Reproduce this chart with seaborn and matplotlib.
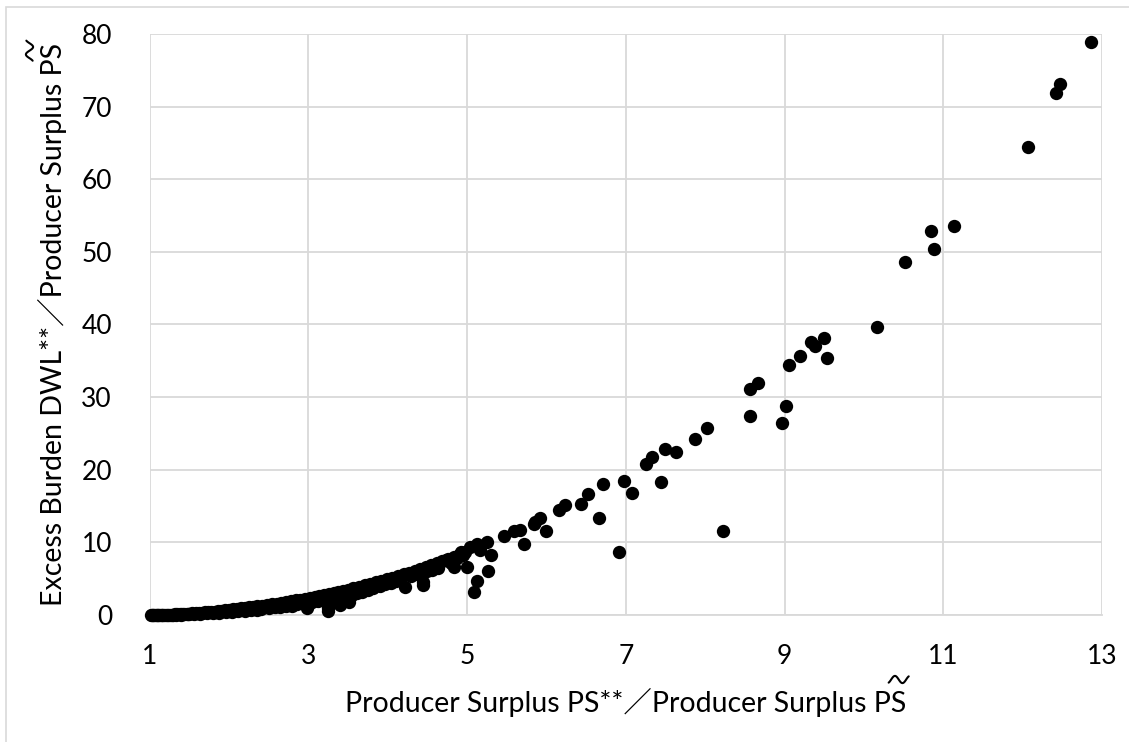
import matplotlib
matplotlib.use("Agg")
import matplotlib.pyplot as plt
import seaborn as sns
import pandas as pd
import numpy as np
from matplotlib.patches import Rectangle
from matplotlib.lines import Line2D

# ---- data ----
band_upper_x = [1.02, 1.05, 1.08, 1.11, 1.14, 1.17, 1.20, 1.23, 1.26, 1.29, 1.32, 1.35, 1.38, 1.41,
                1.44, 1.47, 1.50, 1.54, 1.58, 1.62, 1.66, 1.70, 1.74, 1.78, 1.82, 1.86, 1.90, 1.95,
                2.00, 2.05, 2.10, 2.15, 2.20, 2.25, 2.30, 2.36, 2.42, 2.48, 2.54, 2.60, 2.66, 2.72,
                2.78, 2.84, 2.90, 2.96, 3.02, 3.08, 3.14, 3.20, 3.26, 3.32, 3.38, 3.44, 3.50, 3.57,
                3.64, 3.71, 3.78, 3.85, 3.92, 3.99, 4.06, 4.13, 4.20, 4.27, 4.34, 4.41, 4.48, 4.55,
                4.62, 4.69, 4.76, 4.83, 4.90, 4.97]
band_upper_y = [0.00, 0.00, 0.01, 0.01, 0.02, 0.02, 0.03, 0.04, 0.05, 0.06, 0.07, 0.09, 0.10, 0.12,
                0.14, 0.16, 0.18, 0.21, 0.24, 0.28, 0.31, 0.35, 0.39, 0.43, 0.48, 0.53, 0.58, 0.64,
                0.70, 0.76, 0.83, 0.90, 0.97, 1.04, 1.11, 1.20, 1.29, 1.38, 1.48, 1.58, 1.68, 1.78,
                1.89, 2.00, 2.12, 2.24, 2.36, 2.49, 2.62, 2.76, 2.90, 3.04, 3.19, 3.34, 3.50, 3.69,
                3.88, 4.08, 4.28, 4.49, 4.71, 4.93, 5.15, 5.38, 5.61, 5.85, 6.10, 6.35, 6.61, 6.88,
                7.15, 7.43, 7.72, 8.01, 8.31, 8.61]

band_lower_x = [1.03, 1.06, 1.09, 1.12, 1.16, 1.22, 1.28, 1.34, 1.40, 1.48, 1.56, 1.64, 1.72, 1.80,
                1.88, 1.96, 2.04, 2.12, 2.20, 2.28, 2.35, 2.40, 2.50, 2.58, 2.65, 2.72, 2.79, 2.86,
                2.92, 2.98, 3.00, 3.05, 3.12, 3.18, 3.25, 3.25, 3.30, 3.36, 3.40, 3.46, 3.51, 3.55,
                3.62, 3.68, 3.75, 3.82, 3.90, 3.97, 4.04, 4.10, 4.16, 4.22, 4.30, 4.37, 4.44, 4.45,
                4.50, 4.56, 4.64, 4.73, 4.80, 4.83, 4.88, 4.92, 4.95, 5.00, 5.04]
band_lower_y = [0.00, 0.00, 0.00, 0.00, 0.01, 0.01, 0.02, 0.04, 0.05, 0.08, 0.12, 0.16, 0.21, 0.26,
                0.32, 0.39, 0.46, 0.53, 0.61, 0.70, 0.70, 0.86, 0.98, 1.05, 1.15, 1.30, 1.20, 1.52,
                1.60, 0.90, 1.35, 1.85, 1.95, 2.05, 0.50, 0.90, 2.25, 2.35, 1.40, 2.55, 1.80, 2.75,
                3.00, 3.20, 3.40, 3.65, 3.95, 4.20, 4.45, 4.70, 4.90, 3.90, 5.35, 5.60, 4.10, 4.60,
                6.00, 6.20, 6.50, 7.60, 7.10, 6.65, 7.80, 8.70, 8.20, 6.65, 9.40]

tail_x = [5.09, 5.12, 5.13, 5.17, 5.25, 5.26, 5.30, 5.46, 5.59, 5.67, 5.72, 5.84, 5.86, 5.92,
          5.99, 6.16, 6.23, 6.44, 6.53, 6.66, 6.71, 6.91, 6.98, 7.08, 7.25, 7.33, 7.44, 7.50,
          7.63, 7.87, 8.02, 8.23, 8.56, 8.57, 8.66, 8.97, 9.02, 9.06, 9.19, 9.33, 9.39, 9.50,
          9.53, 10.17, 10.52, 10.85, 10.88, 11.13, 12.07, 12.42, 12.47, 12.86]
tail_y = [3.1, 9.8, 4.7, 9.0, 10.0, 6.1, 8.3, 10.9, 11.6, 11.7, 9.8, 12.5, 12.8, 13.3,
          11.6, 14.5, 15.1, 15.3, 16.6, 13.4, 18.0, 8.7, 18.5, 16.8, 20.8, 21.8, 18.3, 22.8,
          22.4, 24.2, 25.7, 11.5, 27.4, 31.1, 32.0, 26.4, 28.8, 34.4, 35.6, 37.6, 37.0, 38.2,
          35.4, 39.7, 48.6, 52.9, 50.4, 53.5, 64.4, 71.9, 73.1, 78.9]

x_ticks = [1, 3, 5, 7, 9, 11, 13]
y_ticks = [0, 10, 20, 30, 40, 50, 60, 70, 80]

x_label = "Producer Surplus PS**\uff0fProducer Surplus PS"
y_label = "Excess Burden DWL**\uff0fProducer Surplus PS"

df = pd.DataFrame({
    "x": band_upper_x + band_lower_x + tail_x,
    "y": band_upper_y + band_lower_y + tail_y,
})

# ---- style ----
sns.set_theme(style="white")
FAM = ['Lato', 'Noto Sans CJK JP', 'DejaVu Sans']
plt.rcParams['font.family'] = FAM

W, H = 1129, 742
fig = plt.figure(figsize=(W / 100, H / 100), dpi=100)
left, right, top, bottom = 149.5, 1102, 34, 615
ax = fig.add_axes([left / W, 1 - bottom / H, (right - left) / W, (bottom - top) / H])

sns.scatterplot(data=df, x="x", y="y", ax=ax, color="black", s=92, linewidth=0,
                clip_on=False, zorder=3)

ax.set_xlim(1, 13)
ax.set_ylim(0, 80)
ax.set_xticks(x_ticks)
ax.set_yticks(y_ticks)
ax.grid(True, color="#d9d9d9", linewidth=1.3)
ax.set_axisbelow(True)
for sp in ax.spines.values():
    sp.set_visible(False)
ax.spines["bottom"].set_visible(True)
ax.spines["bottom"].set_color("#d9d9d9")
ax.spines["bottom"].set_linewidth(1.3)
ax.tick_params(axis="both", length=0, labelsize=19, colors="black")
ax.tick_params(axis="y", pad=27)
ax.tick_params(axis="x", pad=21)

LBL = 20.5
ax.set_xlabel(x_label, fontsize=LBL, color="black")
ax.set_ylabel(y_label, fontsize=LBL, color="black")
x_base = 712   # image-pixel baseline of the x label
y_base = 62    # image-pixel baseline of the y label
ax.xaxis.label.set_va("baseline")
ax.xaxis.set_label_coords(0.5, (bottom - x_base) / (bottom - top))
ax.yaxis.label.set_va("baseline")
ax.yaxis.set_label_coords((y_base - left) / (right - left), 0.5)

# tilde accent over the final "S" of each label (drawn as a stroke)
fig.canvas.draw()
r = fig.canvas.get_renderer()
tmp = fig.text(0, 0, "S", fontsize=LBL)
sw = tmp.get_window_extent(r).width
tmp.remove()
bx = ax.xaxis.label.get_window_extent(r)
by = ax.yaxis.label.get_window_extent(r)

t = np.linspace(-0.17, 1.17, 60)
along = (t - 0.5) * 15.0          # pixels along the text direction
up = np.sin(2 * np.pi * t) * 3.6  # pixels towards the top of the glyphs
CAP = 20.5
GAP = 12.0
# x label: text runs to +x, glyph top is +y (display coords, origin bottom-left)
cx, cy = bx.x1 - sw / 2, (H - x_base) + CAP + GAP
fig.add_artist(Line2D((cx + along) / W, (cy + up) / H, transform=fig.transFigure,
                      color="black", linewidth=1.5, solid_capstyle="round"))
# y label: text runs to +y, glyph top is -x
cx, cy = y_base - CAP - GAP, by.y1 - sw / 2
fig.add_artist(Line2D((cx - up) / W, (cy + along) / H, transform=fig.transFigure,
                      color="black", linewidth=1.5, solid_capstyle="round"))

# light frame (top and left edges visible)
fig.patches.append(Rectangle((6 / W, -0.05), 1.2, 1 - 7 / H + 0.05, transform=fig.transFigure,
                             fill=False, edgecolor="#d9d9d9", linewidth=1.2))

fig.savefig("out.png", dpi=100)
